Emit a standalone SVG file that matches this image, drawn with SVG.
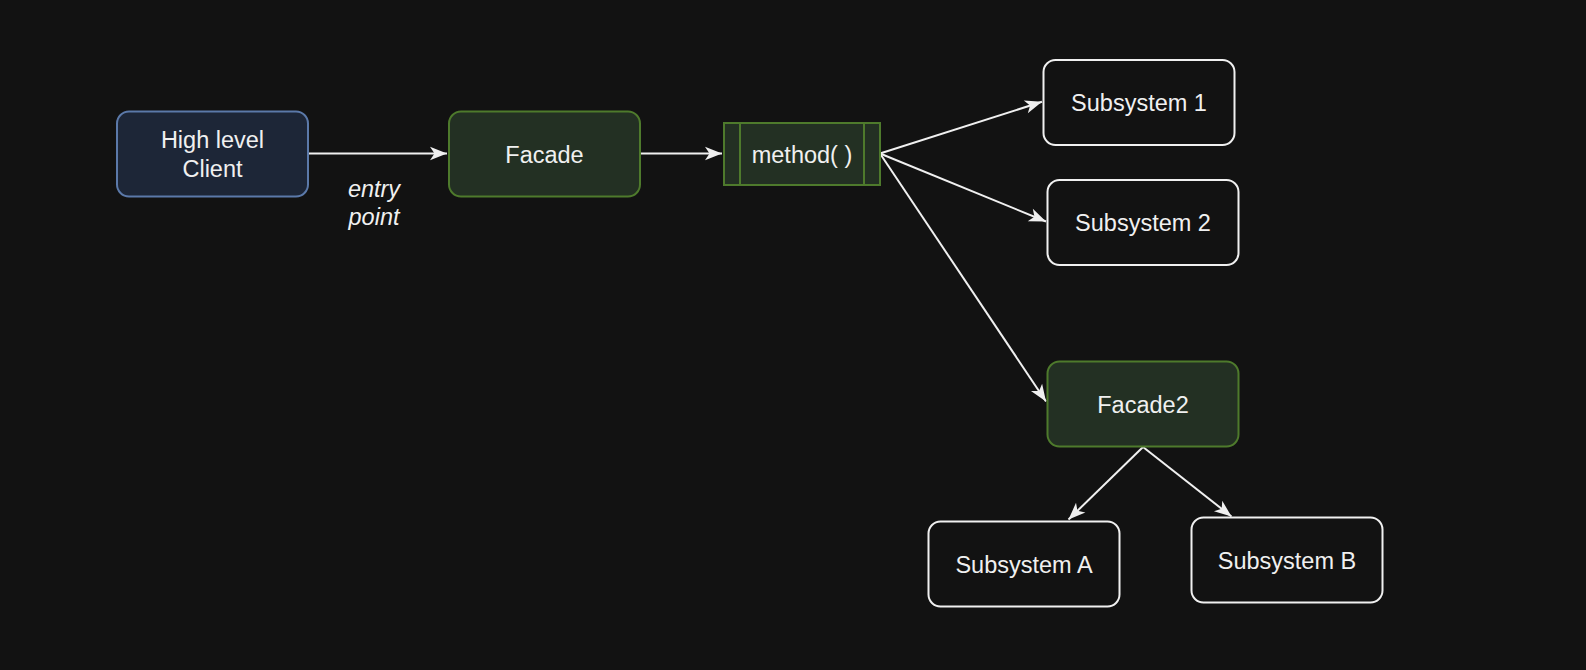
<svg xmlns="http://www.w3.org/2000/svg" width="1586" height="670" viewBox="0 0 1586 670">
<style>
.bg{fill:#121212}
.node text{font-family:"Liberation Sans",Arial,sans-serif;font-size:23.5px;fill:#f0f0f0;text-anchor:middle}
.client{fill:#1d2637;stroke:#5b79a9;stroke-width:2}
.facade{fill:#233023;stroke:#4e7a2c;stroke-width:2}
.sub{fill:#121212;stroke:#f0f0f0;stroke-width:2}
.edge{stroke:#f0f0f0;stroke-width:2;fill:none;marker-end:url(#arrow)}
.lbl{font-family:"Liberation Sans",Arial,sans-serif;font-size:23.5px;font-style:italic;fill:#f0f0f0;text-anchor:middle}
</style>
<defs>
<marker id="arrow" viewBox="-18 -8 20 16" refX="0" refY="0" markerWidth="20" markerHeight="16" markerUnits="userSpaceOnUse" orient="auto">
<path d="M0,0 L-17,-6.7 L-12.5,0 L-17,6.7 Z" fill="#f0f0f0"/>
</marker>
</defs>
<rect class="bg" x="0" y="0" width="1586" height="670"/>
<g id="connectors">
<line class="edge" x1="308" y1="153.5" x2="447" y2="153.5"/>
<line class="edge" x1="640" y1="153.5" x2="722" y2="153.5"/>
<line class="edge" x1="880" y1="153.5" x2="1042" y2="101.8"/>
<line class="edge" x1="880" y1="153.5" x2="1046" y2="221.5"/>
<line class="edge" x1="880" y1="153.5" x2="1046" y2="401.5"/>
<line class="edge" x1="1143" y1="447" x2="1068.5" y2="519.5"/>
<line class="edge" x1="1143" y1="447" x2="1231.5" y2="516.5"/>
<text class="lbl" x="374" y="196.5">entry</text>
<text class="lbl" x="374" y="224.5">point</text>
</g>
<g id="client" class="node">
<rect class="client" x="117" y="111.5" width="191" height="85" rx="12"/>
<text x="212.5" y="148.3">High level</text>
<text x="212.5" y="176.7">Client</text>
</g>
<g id="facade" class="node">
<rect class="facade" x="449" y="111.5" width="191" height="85" rx="12"/>
<text x="544.5" y="162.8">Facade</text>
</g>
<g id="method" class="node">
<rect class="facade" x="724" y="123" width="156" height="62"/>
<line x1="740" y1="123" x2="740" y2="185" stroke="#4e7a2c" stroke-width="2"/>
<line x1="864" y1="123" x2="864" y2="185" stroke="#4e7a2c" stroke-width="2"/>
<text x="802" y="162.5">method( )</text>
</g>
<g id="subsystem1" class="node">
<rect class="sub" x="1043.5" y="60" width="191" height="85" rx="12"/>
<text x="1139" y="111">Subsystem 1</text>
</g>
<g id="subsystem2" class="node">
<rect class="sub" x="1047.5" y="180" width="191" height="85" rx="12"/>
<text x="1143" y="231">Subsystem 2</text>
</g>
<g id="facade2" class="node">
<rect class="facade" x="1047.5" y="361.5" width="191" height="85" rx="12"/>
<text x="1143" y="412.8">Facade2</text>
</g>
<g id="subsystemA" class="node">
<rect class="sub" x="928.5" y="521.5" width="191" height="85" rx="12"/>
<text x="1024" y="572.7">Subsystem A</text>
</g>
<g id="subsystemB" class="node">
<rect class="sub" x="1191.5" y="517.5" width="191" height="85" rx="12"/>
<text x="1287" y="568.7">Subsystem B</text>
</g>
</svg>
